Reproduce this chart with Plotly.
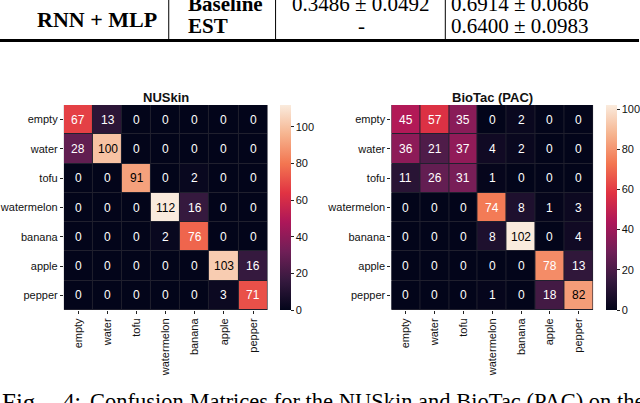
import plotly.graph_objects as go

W, H = 640, 403

labels = ["empty", "water", "tofu", "watermelon", "banana", "apple", "pepper"]

nuskin = [
    [67, 13, 0, 0, 0, 0, 0],
    [28, 100, 0, 0, 0, 0, 0],
    [0, 0, 91, 0, 2, 0, 0],
    [0, 0, 0, 112, 16, 0, 0],
    [0, 0, 0, 2, 76, 0, 0],
    [0, 0, 0, 0, 0, 103, 16],
    [0, 0, 0, 0, 0, 3, 71],
]

biotac = [
    [45, 57, 35, 0, 2, 0, 0],
    [36, 21, 37, 4, 2, 0, 0],
    [11, 26, 31, 1, 0, 0, 0],
    [0, 0, 0, 74, 8, 1, 3],
    [0, 0, 0, 8, 102, 0, 4],
    [0, 0, 0, 0, 0, 78, 13],
    [0, 0, 0, 1, 0, 18, 82],
]

titles = ["NUSkin", "BioTac (PAC)"]
cbar_ticks = [0, 20, 40, 60, 80, 100]

table_methods = ["RNN + MLP"]
table_rows = ["Baseline", "EST"]
table_col1 = ["0.3486 ± 0.0492", "-"]
table_col2 = ["0.6914 ± 0.0686", "0.6400 ± 0.0983"]
caption_parts = ["Fig.", "4:", "Confusion Matrices for the NUSkin and BioTac (PAC) on the"]

# rocket colormap (seaborn) control points
rocket = [
    (0.0, (3, 5, 26)),
    (1 / 7, (53, 25, 62)),
    (2 / 7, (112, 31, 87)),
    (3 / 7, (173, 23, 89)),
    (4 / 7, (225, 51, 66)),
    (5 / 7, (243, 118, 81)),
    (6 / 7, (246, 180, 143)),
    (1.0, (250, 235, 221)),
]
colorscale = [[p, "rgb(%d,%d,%d)" % c] for p, c in rocket]


def rocket_rgb(t):
    t = min(max(t, 0.0), 1.0)
    for (p0, c0), (p1, c1) in zip(rocket[:-1], rocket[1:]):
        if t <= p1:
            f = (t - p0) / (p1 - p0) if p1 > p0 else 0
            return tuple(c0[i] + (c1[i] - c0[i]) * f for i in range(3))
    return rocket[-1][1]


def lum(rgb):
    out = []
    for c in rgb:
        c = c / 255.0
        out.append(c / 12.92 if c <= 0.03928 else ((c + 0.055) / 1.055) ** 2.4)
    return 0.2126 * out[0] + 0.7152 * out[1] + 0.0722 * out[2]


def px_x(x):
    return x / W


def px_y(y):
    return 1 - y / H


fig = go.Figure()

panels = [
    dict(z=nuskin, x0=64, x1=268, cb=280),
    dict(z=biotac, x0=392, x1=594, cb=606),
]
top, bottom = 105, 310
sans = "Liberation Sans, Arial"

annotations = []
for k, p in enumerate(panels):
    z = p["z"]
    zmax = max(max(r) for r in z)
    sfx = "" if k == 0 else "2"
    fig.add_trace(go.Heatmap(
        z=z, x=labels, y=labels,
        xaxis="x" + sfx, yaxis="y" + sfx,
        colorscale=colorscale, zmin=0, zmax=zmax,
        xgap=1, ygap=1,
        colorbar=dict(
            x=px_x(p["cb"]), xanchor="left", xpad=0, ypad=0,
            y=px_y((top + bottom) / 2), yanchor="middle",
            len=(bottom - top) / H, lenmode="fraction",
            thickness=11, thicknessmode="pixels",
            outlinewidth=0,
            tickvals=cbar_ticks, ticks="outside", ticklen=3,
            tickcolor="#222", tickwidth=1,
            tickfont=dict(family=sans, size=11, color="#111"),
        ),
        hoverinfo="skip",
    ))
    xa = dict(
        domain=[px_x(p["x0"]), px_x(p["x1"])],
        anchor="y" + sfx,
        type="category", categoryorder="array", categoryarray=labels,
        tickangle=-90, ticks="outside", ticklen=3, tickcolor="#222",
        tickfont=dict(family=sans, size=11, color="#111"),
        showgrid=False, zeroline=False, showline=False,
    )
    ya = dict(
        domain=[px_y(bottom), px_y(top)],
        anchor="x" + sfx,
        type="category", categoryorder="array", categoryarray=labels,
        autorange="reversed", ticks="outside", ticklen=3, tickcolor="#222",
        tickfont=dict(family=sans, size=11, color="#111"),
        showgrid=False, zeroline=False, showline=False,
    )
    fig.update_layout(**{"xaxis" + sfx: xa, "yaxis" + sfx: ya})
    for i, row in enumerate(z):
        for j, v in enumerate(row):
            col = "#000000" if lum(rocket_rgb(v / zmax)) > 0.408 else "#ffffff"
            annotations.append(dict(
                x=labels[j], y=labels[i], xref="x" + sfx, yref="y" + sfx,
                text=str(v), showarrow=False,
                font=dict(family=sans, size=12, color=col),
            ))
    annotations.append(dict(
        x=px_x((p["x0"] + p["x1"]) / 2), y=px_y(98), xref="paper", yref="paper",
        text="<b>" + titles[k] + "</b>", showarrow=False,
        xanchor="center", yanchor="middle",
        font=dict(family=sans, size=13, color="#111"),
    ))

serif = "Liberation Serif, Times New Roman"
TS = 21
# table fragment
annotations.append(dict(x=px_x(97), y=px_y(19), xref="paper", yref="paper",
                        text="<b>" + table_methods[0] + "</b>", showarrow=False,
                        xanchor="center", yanchor="middle",
                        font=dict(family=serif, size=22, color="#000")))
row_y = [4, 26]
for r in range(2):
    annotations.append(dict(x=px_x(186), y=px_y(row_y[r]), xref="paper", yref="paper",
                            text="<b>" + table_rows[r] + "</b>", showarrow=False,
                            xanchor="left", yanchor="middle",
                            font=dict(family=serif, size=TS, color="#000")))
    annotations.append(dict(x=px_x(362), y=px_y(row_y[r]), xref="paper", yref="paper",
                            text=table_col1[r], showarrow=False,
                            xanchor="center", yanchor="middle",
                            font=dict(family=serif, size=TS, color="#000")))
    annotations.append(dict(x=px_x(521), y=px_y(row_y[r]), xref="paper", yref="paper",
                            text=table_col2[r], showarrow=False,
                            xanchor="center", yanchor="middle",
                            font=dict(family=serif, size=TS, color="#000")))

cap_x = [0, 61, 88]
cap_size = [25, 23, 22.5]
for t, cx, cs in zip(caption_parts, cap_x, cap_size):
    annotations.append(dict(x=px_x(cx), y=px_y(386.5), xref="paper", yref="paper",
                            text=t, showarrow=False,
                            xanchor="left", yanchor="top",
                            font=dict(family=serif, size=cs, color="#000")))

shapes = [
    dict(type="line", xref="paper", yref="paper", x0=0, x1=1,
         y0=px_y(40.5), y1=px_y(40.5), line=dict(color="#000", width=3)),
]
for vx in [169, 276, 446]:
    shapes.append(dict(type="line", xref="paper", yref="paper",
                       x0=px_x(vx), x1=px_x(vx), y0=px_y(39), y1=1,
                       line=dict(color="#000", width=1)))

fig.update_layout(
    width=W, height=H,
    margin=dict(l=0, r=0, t=0, b=0),
    paper_bgcolor="white",
    plot_bgcolor="#20202e",
    annotations=annotations,
    shapes=shapes,
    showlegend=False,
)

fig.write_html("out.html", config={"displayModeBar": False},
               post_script="document.body.style.margin='0px';")
with open("out.html", "r", encoding="utf-8") as f:
    html = f.read()
html = html.replace("<head>", "<head><style>html,body{margin:0;padding:0;overflow:hidden;}</style>", 1)
with open("out.html", "w", encoding="utf-8") as f:
    f.write(html)
